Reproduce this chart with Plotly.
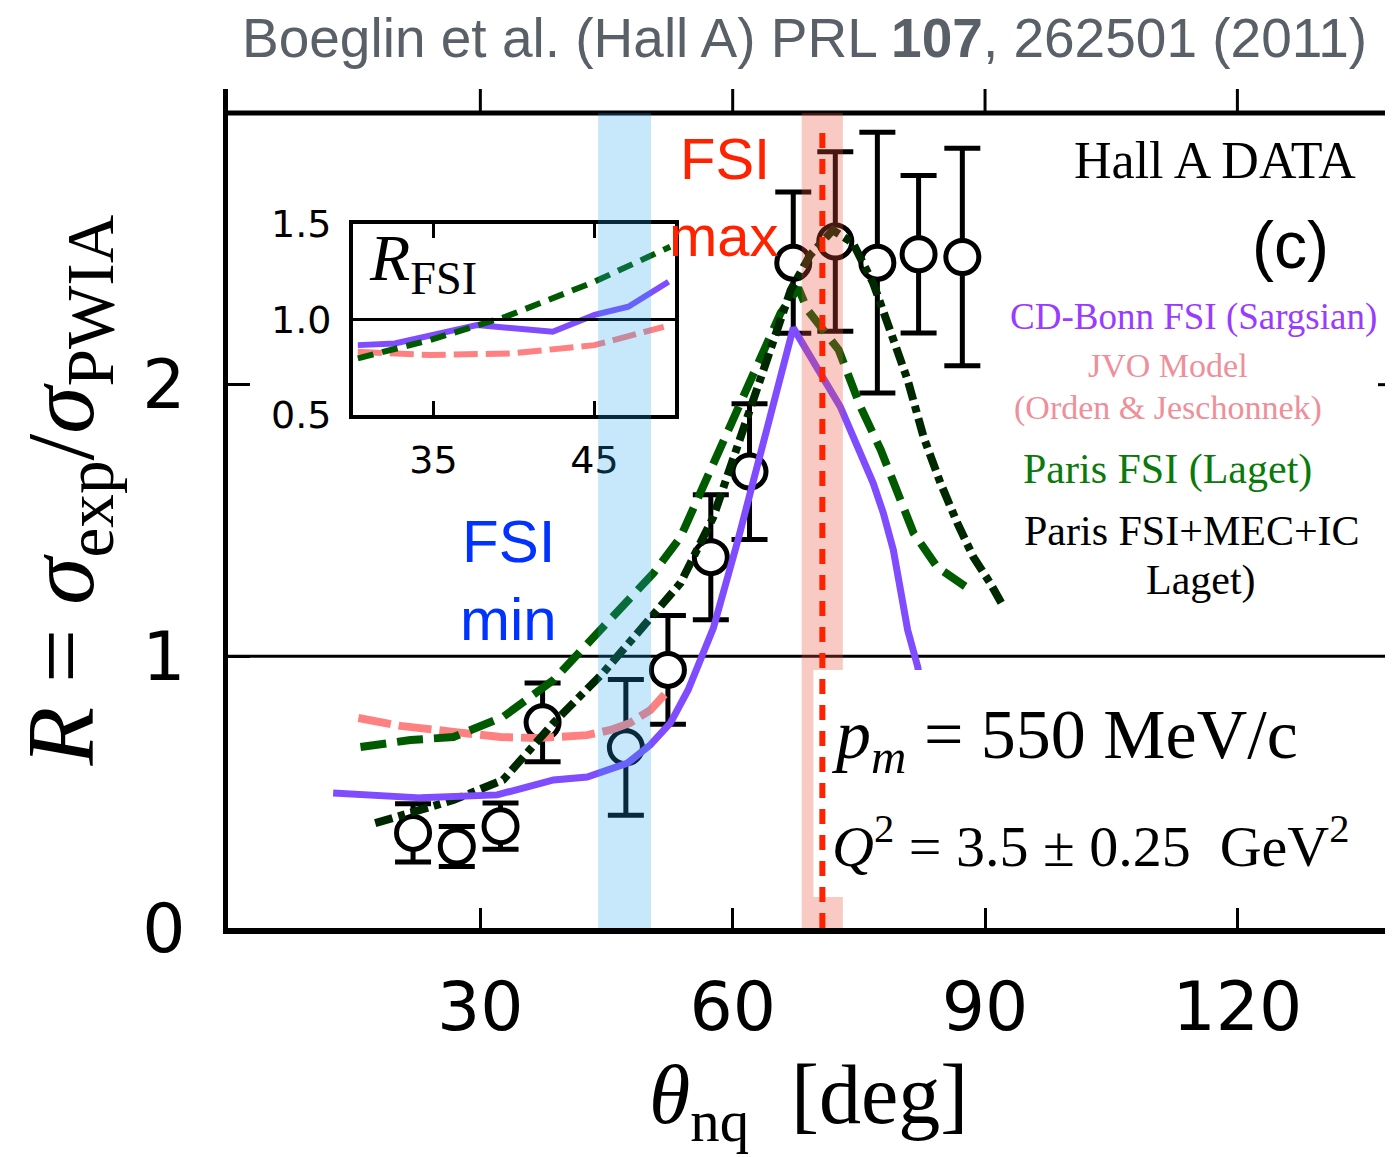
import plotly.graph_objects as go

# ---------------- data ----------------
theta_data = [22.0, 27.2, 32.4, 37.4, 47.3, 52.3, 57.4, 62.0, 67.2, 72.2, 77.2, 82.1, 87.3]
R_data = [0.35, 0.30, 0.375, 0.757, 0.665, 0.95, 1.365, 1.68, 2.449, 2.527, 2.449, 2.48, 2.47]
R_err = [0.107, 0.074, 0.085, 0.145, 0.25, 0.20, 0.23, 0.25, 0.26, 0.33, 0.48, 0.29, 0.40]

sargsian_theta = [12.5, 22.9, 32.0, 38.7, 42.7, 47.5, 50.2, 52.6, 54.7, 56.5, 57.7, 60.6, 64.1, 67.2,
                  72.8, 76.7, 77.9, 79.1, 80.8, 82.0, 83.0]
sargsian_R = [0.497, 0.479, 0.490, 0.545, 0.556, 0.607, 0.674, 0.755, 0.876, 1.023, 1.104, 1.425, 1.848, 2.209,
              1.918, 1.638, 1.528, 1.391, 1.097, 0.961, 0.77]

jvo_theta = [15.5, 20.5, 26.8, 32.4, 36.8, 42.7, 45.5, 47.8, 50.2, 52.2]
jvo_R = [0.773, 0.744, 0.722, 0.703, 0.699, 0.71, 0.729, 0.755, 0.802, 0.869]

laget_fsi_theta = [15.75, 21.7, 26.8, 32.7, 38.7, 44.6, 50.6, 53.8, 57.7, 61.7, 65.7, 67.8, 68.9,
                   72.6, 75.2, 77.6, 79.6, 81.5, 84.3, 87.1, 87.9]
laget_fsi_R = [0.666, 0.692, 0.703, 0.777, 0.913, 1.108, 1.307, 1.439, 1.712, 1.98, 2.264, 2.356, 2.275,
               2.128, 1.918, 1.76, 1.601, 1.454, 1.329, 1.27, 1.252]

laget_full_theta = [17.5, 26.8, 32.7, 38.7, 44.6, 50.6, 53.8, 57.7, 61.7, 64.8, 66.9, 69.2, 71.9,
                    74.3, 76.7, 78.7, 80.8, 82.7, 84.7, 86.7, 88.6, 90.6, 92.2]
laget_full_R = [0.386, 0.471, 0.545, 0.755, 0.939, 1.159, 1.27, 1.513, 1.877, 2.164, 2.348, 2.477, 2.569,
                2.521, 2.374, 2.201, 2.017, 1.807, 1.638, 1.491, 1.366, 1.27, 1.182]

# inset: R_FSI
inset_sargsian_theta = [30.3, 32.6, 37.7, 38.9, 42.4, 45.0, 47.1, 49.6]
inset_sargsian_R = [0.866, 0.875, 0.971, 0.962, 0.936, 1.024, 1.067, 1.198]
inset_laget_theta = [30.3, 34.8, 39.5, 45.0, 49.7]
inset_laget_R = [0.797, 0.893, 1.015, 1.198, 1.381]
inset_jvo_theta = [30.3, 34.8, 39.9, 45.0, 49.3]
inset_jvo_R = [0.831, 0.814, 0.823, 0.866, 0.962]

x_ticks = [30, 60, 90, 120]
y_ticks = [0, 1, 2]
inset_x_ticks = [35, 45]
inset_y_ticks = [0.5, 1.0, 1.5]
inset_y_labels = ["0.5", "1.0", "1.5"]

fsi_min_band = [44.0, 50.3]
fsi_max_band = [68.2, 73.1]
fsi_max_line = 70.66

# ---------------- colours / fonts ----------------
PURPLE = "#7f4cff"
PINK = "#ff8080"
GREEN = "#005a00"
DKGREEN = "#002800"
SANS = "DejaVu Sans"
SERIF = "Liberation Serif"

fig = go.Figure()

# data points (drawn first; curves on top)
fig.add_trace(go.Scatter(
    x=theta_data, y=R_data, mode="markers",
    marker=dict(symbol="circle", size=33, color="white", line=dict(color="black", width=5)),
    error_y=dict(type="data", array=R_err, color="black", thickness=5, width=18),
    showlegend=False, hoverinfo="skip"))

fig.add_trace(go.Scatter(x=jvo_theta, y=jvo_R, mode="lines",
                         line=dict(color=PINK, width=8, dash="33px,8px"), showlegend=False))
fig.add_trace(go.Scatter(x=laget_fsi_theta, y=laget_fsi_R, mode="lines",
                         line=dict(color=GREEN, width=8, dash="26px,11px"), showlegend=False))
fig.add_trace(go.Scatter(x=laget_full_theta, y=laget_full_R, mode="lines",
                         line=dict(color=DKGREEN, width=8, dash="18px,6px,7px,6px"), showlegend=False))
fig.add_trace(go.Scatter(x=sargsian_theta, y=sargsian_R, mode="lines",
                         line=dict(color=PURPLE, width=7), showlegend=False))

# inset traces
fig.add_trace(go.Scatter(x=inset_sargsian_theta, y=inset_sargsian_R, mode="lines", xaxis="x2", yaxis="y2",
                         line=dict(color=PURPLE, width=6), showlegend=False))
fig.add_trace(go.Scatter(x=inset_jvo_theta, y=inset_jvo_R, mode="lines", xaxis="x2", yaxis="y2",
                         line=dict(color=PINK, width=6, dash="24px,8px"), showlegend=False))
fig.add_trace(go.Scatter(x=inset_laget_theta, y=inset_laget_R, mode="lines", xaxis="x2", yaxis="y2",
                         line=dict(color=GREEN, width=6, dash="16px,9px"), showlegend=False))

PLOT_H = 815.0
PLOT_W = 1165.0
ext = 24 / PLOT_H

shapes = []
# y = 1 reference line
shapes.append(dict(type="line", xref="paper", yref="y", x0=0, x1=1, y0=1, y1=1,
                   line=dict(color="black", width=3), layer="below"))
# inset 1.0 line
shapes.append(dict(type="line", xref="x2", yref="y2", x0=30, x1=50, y0=1.0, y1=1.0,
                   line=dict(color="black", width=3), layer="above"))
# top frame line, left spine extension, top ticks
shapes.append(dict(type="line", xref="paper", yref="paper", x0=0, x1=1, y0=1, y1=1,
                   line=dict(color="black", width=5), layer="above"))
shapes.append(dict(type="line", xref="paper", yref="paper", x0=-2.5 / PLOT_W, x1=-2.5 / PLOT_W, y0=1, y1=1 + ext,
                   line=dict(color="black", width=5), layer="above"))
for v in x_ticks:
    shapes.append(dict(type="line", xref="x", yref="paper", x0=v, x1=v, y0=1, y1=1 + ext,
                       line=dict(color="black", width=3), layer="above"))
# right-side tick at y=2
shapes.append(dict(type="line", xref="paper", yref="y", x0=1 - 15 / PLOT_W, x1=1, y0=2, y1=2,
                   line=dict(color="black", width=3), layer="above"))
# FSI min / max bands
shapes.append(dict(type="rect", xref="x", yref="paper", x0=fsi_min_band[0], x1=fsi_min_band[1], y0=0, y1=1,
                   fillcolor="rgba(30,165,235,0.25)", line=dict(width=0), layer="above"))
shapes.append(dict(type="rect", xref="x", yref="paper", x0=fsi_max_band[0], x1=fsi_max_band[1], y0=0, y1=1,
                   fillcolor="rgba(235,80,60,0.30)", line=dict(width=0), layer="above"))
# white box behind kinematics text
shapes.append(dict(type="rect", xref="x", yref="y", x0=69.6, x1=138.5, y0=0.114, y1=0.95,
                   fillcolor="white", line=dict(width=0), layer="above"))
# red dashed line
shapes.append(dict(type="line", xref="x", yref="y", x0=fsi_max_line, x1=fsi_max_line, y0=0, y1=2.93,
                   line=dict(color="#ff2200", width=6, dash="15px,11px"), layer="above"))

ann = []


def txt(x, y, text, size, color="black", family=SERIF, xanchor="center", yanchor="middle", xref="x", yref="y",
        angle=0):
    ann.append(dict(x=x, y=y, xref=xref, yref=yref, text=text, showarrow=False, xanchor=xanchor,
                    yanchor=yanchor, textangle=angle, font=dict(size=size, color=color, family=family)))


txt(0.495, 1.092, "Boeglin et al. (Hall A) PRL <b>107</b>, 262501 (2011)", 55, color="#5a6068",
    family="Liberation Sans", xref="paper", yref="paper")
txt(117.3, 2.827, "Hall A DATA", 52)
txt(126.3, 2.514, "(c)", 66, family="Liberation Sans")
txt(114.8, 2.249, "CD-Bonn FSI (Sargsian)", 37, color="#9a3cff")
txt(111.8, 2.072, "JVO Model", 34, color="#ee8f99")
txt(111.8, 1.914, "(Orden &amp; Jeschonnek)", 34, color="#ee8f99")
txt(111.7, 1.686, "Paris FSI (Laget)", 42, color="#0a7a0a")
txt(114.6, 1.461, "Paris FSI+MEC+IC", 42)
txt(115.7, 1.281, "Laget)", 42)
txt(71.4, 0.692, "<i>p<sub>m</sub></i> = 550 MeV/c", 70, xanchor="left")
txt(71.6, 0.313, "<i>Q</i><sup>2</sup> = 3.5 ± 0.25  GeV<sup>2</sup>", 58, xanchor="left")
txt(59.1, 2.834, "FSI", 58, color="#ff2200", family="Liberation Sans")
txt(59.0, 2.55, "max", 58, color="#ff2200", family="Liberation Sans")
txt(33.3, 1.421, "FSI", 60, color="#0033ff", family="Liberation Sans")
txt(33.3, 1.134, "min", 60, color="#0033ff", family="Liberation Sans")
txt(30.9, 1.30, "<i>R</i><sub>FSI</sub>", 66, xref="x2", yref="y2", xanchor="left")
# axis titles
txt(0.498, -0.212, "<i>θ</i><sub>nq</sub>  [deg]", 84, xref="paper", yref="paper")
txt(-0.138, 0.537, "<i>R</i> = <i>σ</i><sub>exp</sub>/<i>σ</i><sub>PWIA</sub>", 96, xref="paper",
    yref="paper", angle=-90)

# page body has an 8px default margin: size the figure so the plot area lands at x=228..1393, y=113..928
fig.update_layout(
    width=1385, height=1149,
    margin=dict(l=220, r=0, t=105, b=229, autoexpand=False),
    paper_bgcolor="white", plot_bgcolor="white",
    showlegend=False,
    xaxis=dict(range=[0, 138.5], showline=True, linewidth=6, linecolor="black", ticks="inside",
               ticklen=20, tickwidth=3, tickcolor="black", tickvals=x_ticks, showgrid=False, zeroline=False,
               tickfont=dict(family=SANS, size=68, color="black"), ticklabelstandoff=14, automargin=False),
    yaxis=dict(range=[0, 3], showline=True, linewidth=5, linecolor="black", ticks="inside",
               ticklen=22, tickwidth=3, tickcolor="black", tickvals=y_ticks, showgrid=False, zeroline=False,
               tickfont=dict(family=SANS, size=68, color="black"), ticklabelstandoff=24, automargin=False),
    xaxis2=dict(domain=[0.1073, 0.3837], anchor="y2", range=[30, 50], showline=True, mirror="ticks",
                linewidth=4, linecolor="black", ticks="inside", ticklen=14, tickwidth=3, tickcolor="black",
                tickvals=inset_x_ticks, showgrid=False, zeroline=False, automargin=False,
                tickfont=dict(family=SANS, size=38, color="black"), ticklabelstandoff=8),
    yaxis2=dict(domain=[0.6294, 0.8638], anchor="x2", range=[0.5, 1.5], showline=True, mirror=True,
                linewidth=4, linecolor="black", ticks="", tickvals=inset_y_ticks, ticktext=inset_y_labels,
                showgrid=False, zeroline=False, automargin=False,
                tickfont=dict(family=SANS, size=38, color="black"), ticklabelstandoff=10),
    shapes=shapes,
    annotations=ann,
)

fig.write_html("out.html")
